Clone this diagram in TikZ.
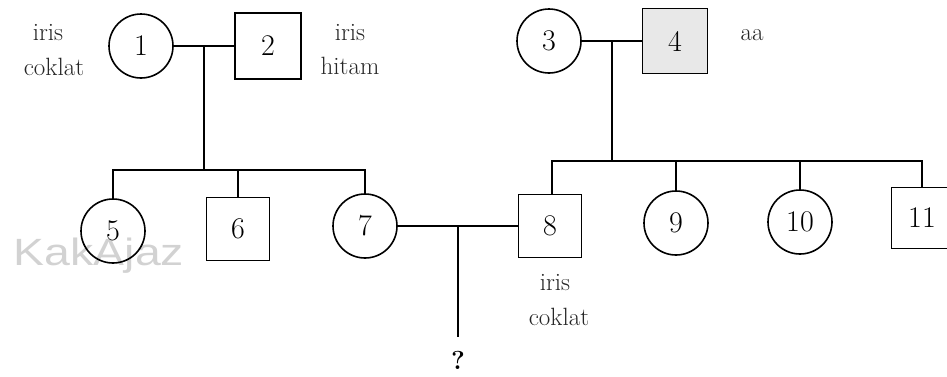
\documentclass[tikz,border=0pt]{standalone}
\usepackage{fontspec}
\usetikzlibrary{calc}
\newfontfamily\wmfont{Liberation Sans}
\begin{document}
\begin{tikzpicture}[x=1pt,y=-1pt,
  person/.style={draw, line width=1.6pt, inner sep=0pt, font=\fontsize{30}{30}\selectfont},
  fem/.style={person, circle, minimum size=64pt},
  mal/.style={person, rectangle, minimum size=63pt},
  lbl/.style={font=\fontsize{25}{25}\selectfont, inner sep=0pt, text=black!85},
  link/.style={line width=1.6pt}]
\useasboundingbox (0,0) rectangle (947,376);
\clip (0,0) rectangle (947,376);
% watermark
\node[font=\wmfont\fontsize{38}{38}\selectfont, text=gray!35, xscale=1.22, inner sep=0pt] (wm) at (99,256) {KakAjaz};
% persons
\node[fem] (p1) at (141,46) {1};
\node[mal, minimum size=66pt] (p2) at (268,46) {2};
\node[fem] (p3) at (549,41) {3};
\node[mal, minimum size=65pt, fill=gray!18] (p4) at (675,41) {4};
\node[fem] (p5) at (113,231) {5};
\node[mal] (p6) at (238,229) {6};
\node[fem] (p7) at (365,226) {7};
\node[mal] (p8) at (550,226) {8};
\node[fem] (p9) at (676,223) {9};
\node[fem] (p10) at (800,222) {10};
\node[mal, minimum size=61pt] (p11) at (922,218) {11};
% labels
\node[lbl] (l1a) at (48,33) {iris};
\node[lbl] (l1b) at (54,67) {coklat};
\node[lbl] (l2a) at (350,33) {iris};
\node[lbl] (l2b) at (350,66) {hitam};
\node[lbl] (l4) at (752,35) {aa};
\node[lbl] (l8a) at (555,283) {iris};
\node[lbl] (l8b) at (559,317) {coklat};
\node[font=\bfseries\fontsize{26}{26}\selectfont, inner sep=0pt] (q) at (458,360) {?};
% family 1-2
\draw[link] (p1) -- (p2);
\coordinate (m12) at ($(p1.east)!0.5!(p2.west)$);
\coordinate (sL) at (0,170);
\draw[link] (m12) -- (m12 |- sL);
\draw[link] (p5.north) -- (p5.north |- sL) -- (p7.north |- sL) -- (p7.north);
\draw[link] (p6.north) -- (p6.north |- sL);
% family 3-4
\draw[link] (p3) -- (p4);
\coordinate (m34) at ($(p3.east)!0.5!(p4.west)$);
\coordinate (sR) at (0,161);
\draw[link] (m34) -- (m34 |- sR);
\draw[link] ([xshift=2pt]p8.north) -- ([xshift=2pt]p8.north |- sR) -- (p11.north |- sR) -- (p11.north);
\draw[link] (p9.north) -- (p9.north |- sR);
\draw[link] (p10.north) -- (p10.north |- sR);
% family 7-8
\draw[link] (p7) -- (p8);
\coordinate (m78) at ($(p7.east)!0.5!(p8.west)$);
\coordinate (c78) at (458,337);
\draw[link] (m78) -- (m78 |- c78);
\end{tikzpicture}
\end{document}
